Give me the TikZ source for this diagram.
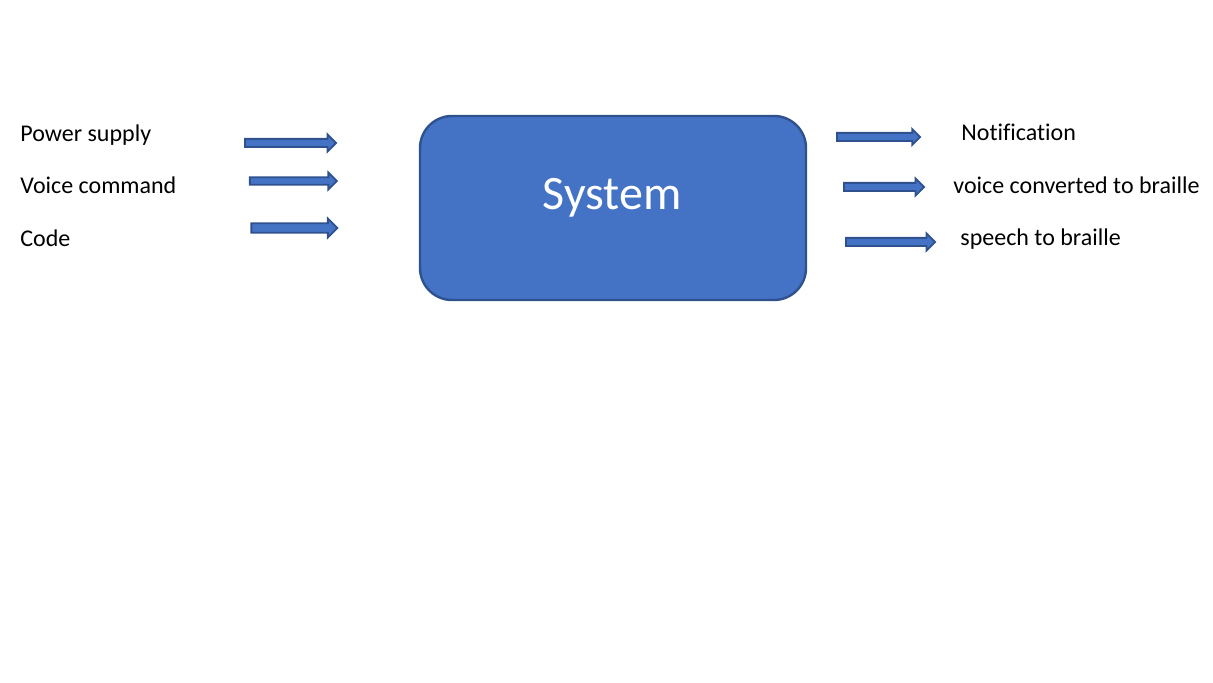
\documentclass[tikz,border=0pt]{standalone}
\usepackage{fontspec}
\setmainfont[Ligatures=NoCommon]{Carlito}
\usepackage{tikz}
\usetikzlibrary{shapes.arrows}

\definecolor{boxblue}{HTML}{4472C4}
\definecolor{edgeblue}{HTML}{2F528F}

\begin{document}
\begin{tikzpicture}[x=0.5pt, y=-0.5pt,
	blockarrow/.style={single arrow, draw=edgeblue, fill=boxblue, line width=0.9pt, inner sep=0pt, minimum width=0pt, single arrow head extend=2.2pt},
	lbl/.style={anchor=base west, inner sep=0pt, font=\fontsize{12}{14}\selectfont}]
				\useasboundingbox (0,0) rectangle (1213,683);
				
				\node[draw=edgeblue, fill=boxblue, line width=1.2pt, rounded corners=16pt, minimum width=193pt, minimum height=92pt] (sys) at (613,208){};
				\node[text=white, anchor=base, inner sep=0pt, font=\fontsize{24}{28}\selectfont] (syslbl) at (612,210){System};
				
				\node[lbl] (power) at (20,142){Power supply};
				\node[lbl] (voice) at (20,194){Voice command};
				\node[lbl] (code) at (20,247){Code};
				
				\node[lbl] (notif) at (961,141){Notification};
				\node[lbl] (conv) at (953,194){voice converted to braille};
				\node[lbl] (speech) at (960,246){speech to braille};
				
				\node[blockarrow, inner ysep=1.6pt, minimum height=45.5pt] (in1) at (288.5,143){};
				\node[blockarrow, inner ysep=1.4pt, single arrow head extend=2.4pt, minimum height=43.5pt] (in2) at (291.5,181){};
				\node[blockarrow, inner ysep=1.9pt, single arrow head extend=2.4pt, minimum height=43pt] (in3) at (292,228){};
				
				\node[blockarrow, inner ysep=1.6pt, single arrow head extend=1.9pt, minimum height=41.5pt] (out1) at (876.5,137){};
				\node[blockarrow, inner ysep=1.6pt, minimum height=40pt] (out2) at (882,187){};
				\node[blockarrow, inner ysep=1.6pt, minimum height=44.5pt] (out3) at (888.5,242){};
\end{tikzpicture}
\end{document}
